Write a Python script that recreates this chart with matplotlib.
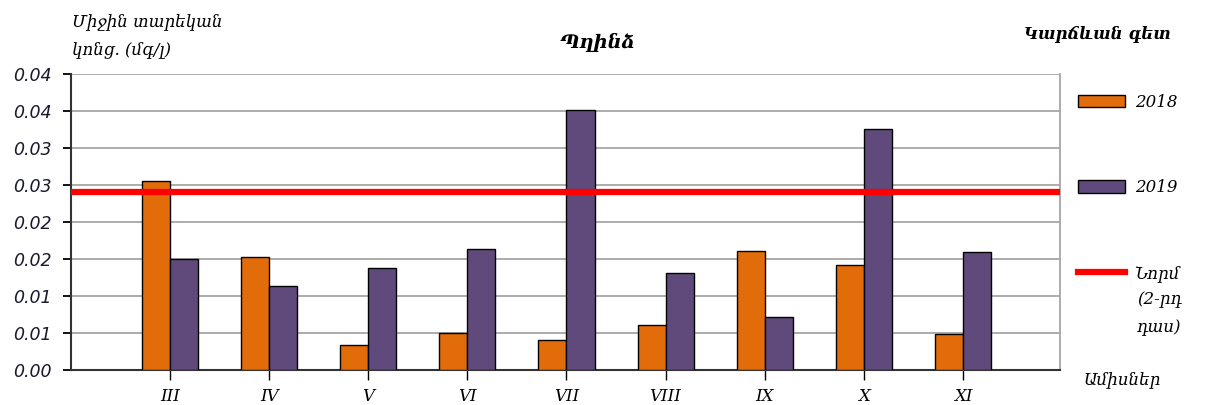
import matplotlib
matplotlib.use("Agg")
import numpy as np
import matplotlib.pyplot as plt
from matplotlib.lines import Line2D
import matplotlib.patches as mpatches

# ── Data ──────────────────────────────────────────────────────────────────────
months = ["III", "IV", "V", "VI", "VII", "VIII", "IX", "X", "XI"]
copper_2018 = [0.0255, 0.0153, 0.0034, 0.0050, 0.0040, 0.0061, 0.0161, 0.0142, 0.0049]
copper_2019 = [0.0150, 0.0114, 0.0138, 0.0164, 0.0351, 0.0131, 0.0072, 0.0326, 0.0160]
norm_value = 0.0241

yticks = [0.000, 0.005, 0.010, 0.015, 0.020, 0.025, 0.030, 0.035, 0.040]
ytick_labels = ["0.00", "0.01", "0.01", "0.02", "0.02", "0.03", "0.03", "0.04", "0.04"]

c_2018 = "#E36C0A"
c_2019 = "#604A7B"
c_norm = "#FF0000"

serif = ["DejaVu Serif", "DejaVu Sans"]
sans = ["DejaVu Sans"]

fig = plt.figure(figsize=(12.08, 4.05), dpi=100)
ax = fig.add_axes([71 / 1208, 35 / 405, (1060 - 71) / 1208, (370 - 74) / 405])

x = np.arange(len(months))
bw = 0.283
ax.bar(x - bw / 2, copper_2018, bw, color=c_2018, edgecolor="black", linewidth=1.0,
       zorder=3, label="2018")
ax.bar(x + bw / 2, copper_2019, bw, color=c_2019, edgecolor="black", linewidth=1.0,
       zorder=3, label="2019")
ax.axhline(norm_value, color=c_norm, linewidth=4.5, zorder=4, label="Նորմ")

ax.set_xlim(-1.0, 8.98)
ax.set_ylim(0, 0.04)
ax.set_yticks(yticks)
ax.set_yticklabels(ytick_labels, fontfamily=sans, fontstyle="italic", fontsize=12.5,
                   color="#1a1a2e")
ax.set_xticks(x)
ax.set_xticklabels(months, fontfamily=serif, fontstyle="italic", fontsize=12)
ax.tick_params(axis="y", direction="out", length=6, width=1.3, pad=8)
ax.tick_params(axis="x", direction="out", length=7, width=1.0, pad=6)

ax.grid(True, axis="y", color="#a6a6a6", linewidth=1.3, zorder=0)
ax.set_axisbelow(True)
ax.spines["top"].set_visible(False)
ax.spines["left"].set_color("#333333")
ax.spines["left"].set_linewidth(1.5)
ax.spines["bottom"].set_color("#333333")
ax.spines["bottom"].set_linewidth(1.5)
ax.spines["right"].set_color("#a6a6a6")
ax.spines["right"].set_linewidth(1.3)

# Texts
fig.text(72 / 1208, 1 - 22 / 405, "Միջին տարեկան", fontfamily=serif, fontstyle="italic",
         fontsize=12, ha="left", va="center")
fig.text(72 / 1208, 1 - 50 / 405, "կոնց. (մգ/լ)", fontfamily=serif, fontstyle="italic",
         fontsize=12, ha="left", va="center")
fig.text(598 / 1208, 1 - 42 / 405, "Պղինձ", fontfamily=serif, fontstyle="italic",
         fontweight="bold", fontsize=14, ha="center", va="center")
fig.text(1097 / 1208, 1 - 34 / 405, "Կարճևան գետ", fontfamily=serif, fontstyle="italic",
         fontweight="bold", fontsize=12, ha="center", va="center")
fig.text(1122 / 1208, 1 - 380 / 405, "Ամիսներ", fontfamily=serif, fontstyle="italic",
         fontsize=12, ha="center", va="center")

# Legend
handles = [
    mpatches.Patch(facecolor=c_2018, edgecolor="black", linewidth=1.0),
    mpatches.Patch(facecolor=c_2019, edgecolor="black", linewidth=1.0),
    Line2D([0], [0], color=c_norm, linewidth=4.5),
]
leg = fig.legend(handles, ["2018", "2019", "Նորմ"], loc="upper left",
                 bbox_to_anchor=(1078 / 1208, 1 - 94 / 405), frameon=False,
                 prop={"family": serif, "style": "italic", "size": 12},
                 handlelength=2.8, handleheight=0.75, handletextpad=0.6,
                 labelspacing=4.1, borderaxespad=0, borderpad=0)
fig.text(1137 / 1208, 1 - 300 / 405, "(2-րդ", fontfamily=serif, fontstyle="italic",
         fontsize=12, ha="left", va="center")
fig.text(1137 / 1208, 1 - 328 / 405, "դաս)", fontfamily=serif, fontstyle="italic",
         fontsize=12, ha="left", va="center")

fig.savefig("out.png", dpi=100)
